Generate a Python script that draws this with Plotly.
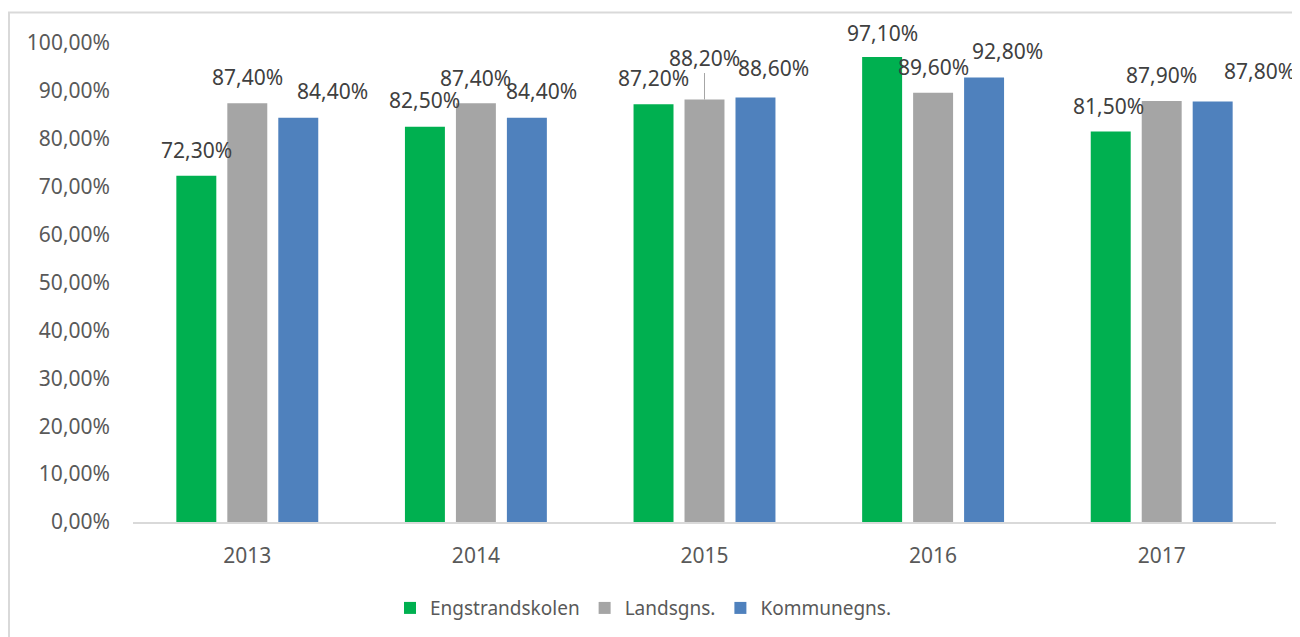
import plotly.graph_objects as go

# ---- data ----
years = ["2013", "2014", "2015", "2016", "2017"]
engstrand = [72.3, 82.5, 87.2, 97.1, 81.5]
lands = [87.4, 87.4, 88.2, 89.6, 87.9]
kommune = [84.4, 84.4, 88.6, 92.8, 87.8]
series_names = ["Engstrandskolen", "Landsgns.", "Kommunegns."]

# ---- styles ----
colors = ["#00B050", "#A5A5A5", "#4F81BD"]
FONT = "Noto Sans"
LABEL_COLOR = "#404040"
TICK_COLOR = "#595959"

# label placement tweaks (pixel shifts, mimicking Excel's moved labels)
bar_offset_px = [-51, 0, 51]
label_dx = [
    [0, 0, 0, 0, -2],
    [0, 0, 0, 0, 0],
    [34, 15, 18, 23, 47],
]
label_dy = [
    [26, 27, 26, 24, 26],
    [26, 25, 42, 26, 26],
    [27, 27, 30, 26, 30],
]
leader = (1, 2)  # series index, year index with leader line

fig = go.Figure()
all_vals = [engstrand, lands, kommune]
for name, vals, col in zip(series_names, all_vals, colors):
    fig.add_trace(go.Bar(
        x=years, y=vals, name=name,
        marker=dict(color=col, line=dict(width=0)),
    ))

annotations = []
for si, vals in enumerate(all_vals):
    for yi, v in enumerate(vals):
        txt = f"{v:.2f}%".replace(".", ",")
        if (si, yi) == leader:
            annotations.append(dict(
                x=yi, y=v, xref="x", yref="y", text=txt,
                showarrow=True, arrowhead=0, arrowwidth=1, arrowcolor="#A6A6A6",
                ax=0, ay=-label_dy[si][yi], standoff=0,
                xshift=bar_offset_px[si] + label_dx[si][yi],
                font=dict(family=FONT, size=21, color=LABEL_COLOR),
            ))
        else:
            annotations.append(dict(
                x=yi, y=v, xref="x", yref="y", text=txt,
                showarrow=False, yanchor="middle", xanchor="center",
                xshift=bar_offset_px[si] + label_dx[si][yi],
                yshift=label_dy[si][yi],
                font=dict(family=FONT, size=21, color=LABEL_COLOR),
            ))

fig.update_layout(
    width=1292, height=629,
    margin=dict(l=125, r=24, t=35, b=115),
    paper_bgcolor="white", plot_bgcolor="white",
    barmode="group", bargap=0.331, bargroupgap=0.216,
    separators=", ",
    font=dict(family=FONT, size=20, color=TICK_COLOR),
    showlegend=True,
    legend=dict(
        orientation="h", xref="container", yref="container",
        x=0.4915, xanchor="center", y=0.046, yanchor="middle",
        font=dict(family=FONT, size=19, color=TICK_COLOR),
        itemwidth=30, traceorder="normal",
    ),
    annotations=annotations,
    shapes=[dict(
        type="rect", xref="paper", yref="paper",
        x0=-0.1085, x1=1.06, y0=-0.35, y1=1.0637,
        line=dict(color="#D9D9D9", width=2), layer="below",
    )],
)
fig.update_xaxes(
    type="category", range=[-0.5, len(years) - 0.5], autorange=False,
    showgrid=False, showline=True, linecolor="#D9D9D9", linewidth=2,
    ticks="", ticklabelstandoff=14, tickfont=dict(family=FONT, size=21, color=TICK_COLOR),
)
fig.update_yaxes(
    range=[0, 100], autorange=False, dtick=10, tick0=0, tickformat=".2f", ticksuffix="%",
    showgrid=False, showline=False, zeroline=False, ticks="",
    ticklabelstandoff=22, tickfont=dict(family=FONT, size=21, color=TICK_COLOR),
)

fig.write_html("out.html")
